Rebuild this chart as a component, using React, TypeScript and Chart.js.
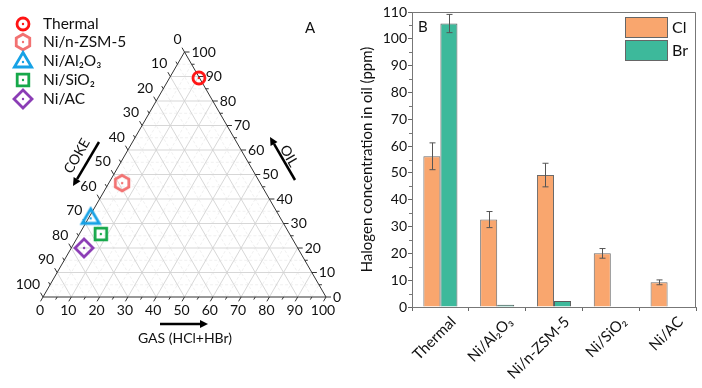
import React, { useEffect, useRef } from 'react';
import { Chart, registerables } from 'chart.js';
Chart.register(...registerables);

// ---------- Ternary data (percent) ----------
const ternarySeries = ['Thermal', 'Ni/n-ZSM-5', 'Ni/Al₂O₃', 'Ni/SiO₂', 'Ni/AC'];
const gasPct = [10.4, 4.7, 0.6, 7.6, 4.5];
const oilPct = [89.4, 46.5, 32.5, 25.7, 20.0];
const cokePct = [0.2, 48.8, 66.9, 66.7, 75.5];
const markerShapes = ['circle', 'hexagon', 'triangle', 'square', 'diamond'];
const markerColors = ['#ff1414', '#f27272', '#17a2e6', '#16a84a', '#8b3db5'];
const ternaryTickValues = [0, 10, 20, 30, 40, 50, 60, 70, 80, 90, 100];

// ---------- Bar data (ppm) ----------
const barCategories = ['Thermal', 'Ni/Al₂O₃', 'Ni/n-ZSM-5', 'Ni/SiO₂', 'Ni/AC'];
const clValues = [56.2, 32.6, 49.2, 20.0, 9.2];
const clErrors = [5.0, 3.0, 4.4, 1.8, 0.9];
const brValues = [105.7, 0.8, 2.2, 0, 0];
const brErrors = [3.4, 0, 0, 0, 0];
const barTickValues = [0, 10, 20, 30, 40, 50, 60, 70, 80, 90, 100, 110];

const FONT = 'Lato, "Open Sans", sans-serif';
const SQ3 = Math.sqrt(3) / 2;

function makeMarker(shape: string, color: string): HTMLCanvasElement {
  const S = 24;
  const c = document.createElement('canvas');
  c.width = S;
  c.height = S;
  const ctx = c.getContext('2d')!;
  const m = S / 2;
  ctx.strokeStyle = color;
  ctx.fillStyle = color;
  ctx.lineWidth = 2.8;
  ctx.lineJoin = 'miter';
  ctx.beginPath();
  if (shape === 'circle') {
    ctx.arc(m, m, 6, 0, Math.PI * 2);
  } else if (shape === 'hexagon') {
    for (let i = 0; i < 6; i++) {
      const a = (-90 + 60 * i) * Math.PI / 180;
      const px = m + 7.8 * Math.cos(a);
      const py = m + 7.8 * Math.sin(a);
      if (i === 0) ctx.moveTo(px, py); else ctx.lineTo(px, py);
    }
  } else if (shape === 'triangle') {
    ctx.moveTo(m, m - 8.5);
    ctx.lineTo(m + 8.6, m + 6);
    ctx.lineTo(m - 8.6, m + 6);
  } else if (shape === 'square') {
    ctx.rect(m - 5.8, m - 5.8, 11.6, 11.6);
  } else {
    ctx.moveTo(m, m - 9);
    ctx.lineTo(m + 9, m);
    ctx.lineTo(m, m + 9);
    ctx.lineTo(m - 9, m);
  }
  ctx.closePath();
  ctx.stroke();
  ctx.beginPath();
  ctx.arc(m, m + (shape === 'triangle' ? 1 : 0), 1.2, 0, Math.PI * 2);
  ctx.fill();
  return c;
}

function arrow(ctx: CanvasRenderingContext2D, x1: number, y1: number, x2: number, y2: number) {
  const ang = Math.atan2(y2 - y1, x2 - x1);
  const hl = 8;
  const hw = 4;
  const bx = x2 - hl * Math.cos(ang);
  const by = y2 - hl * Math.sin(ang);
  ctx.save();
  ctx.strokeStyle = '#000';
  ctx.fillStyle = '#000';
  ctx.lineWidth = 2.5;
  ctx.beginPath();
  ctx.moveTo(x1, y1);
  ctx.lineTo(bx, by);
  ctx.stroke();
  ctx.beginPath();
  ctx.moveTo(x2, y2);
  ctx.lineTo(bx + hw * Math.sin(ang), by - hw * Math.cos(ang));
  ctx.lineTo(bx - hw * Math.sin(ang), by + hw * Math.cos(ang));
  ctx.closePath();
  ctx.fill();
  ctx.restore();
}

export default function App() {
  const leftRef = useRef<HTMLCanvasElement | null>(null);
  const rightRef = useRef<HTMLCanvasElement | null>(null);

  useEffect(() => {
    const markers = markerShapes.map((s, i) => makeMarker(s, markerColors[i]));

    const ternaryPlugin = {
      id: 'ternary',
      beforeDatasetsDraw(chart: any) {
        const ctx: CanvasRenderingContext2D = chart.ctx;
        const xs = chart.scales.x;
        const ys = chart.scales.y;
        const P = (g: number, o: number): [number, number] => [
          xs.getPixelForValue(g + o / 2),
          ys.getPixelForValue(o * SQ3),
        ];
        const line = (a: [number, number], b: [number, number]) => {
          ctx.beginPath();
          ctx.moveTo(a[0], a[1]);
          ctx.lineTo(b[0], b[1]);
          ctx.stroke();
        };
        ctx.save();
        // minor grid
        ctx.strokeStyle = '#ececec';
        ctx.lineWidth = 0.8;
        ctx.setLineDash([3, 2]);
        for (let v = 5; v < 100; v += 10) {
          line(P(v, 0), P(v, 100 - v));
          line(P(0, v), P(100 - v, v));
          line(P(0, 100 - v), P(100 - v, 0));
        }
        ctx.setLineDash([]);
        // major grid
        ctx.strokeStyle = '#d2d2d2';
        ctx.lineWidth = 0.9;
        for (let v = 10; v < 100; v += 10) {
          line(P(v, 0), P(v, 100 - v));
          line(P(0, v), P(100 - v, v));
          line(P(0, 100 - v), P(100 - v, 0));
        }
        // frame
        ctx.strokeStyle = '#333';
        ctx.lineWidth = 1;
        ctx.beginPath();
        const a = P(0, 0), b = P(100, 0), c = P(0, 100);
        ctx.moveTo(a[0], a[1]);
        ctx.lineTo(b[0], b[1]);
        ctx.lineTo(c[0], c[1]);
        ctx.closePath();
        ctx.stroke();
        // ticks
        for (let v = 0; v <= 100; v += 5) {
          const L = v % 10 === 0 ? 5 : 3;
          const pb = P(v, 0);
          line(pb, [pb[0] - 0.5 * L, pb[1] + SQ3 * L]);
          const pr = P(100 - v, v);
          line(pr, [pr[0] + L, pr[1]]);
          const pl = P(0, 100 - v);
          line(pl, [pl[0] - 0.5 * L, pl[1] - SQ3 * L]);
        }
        // tick labels
        ctx.fillStyle = '#111';
        ctx.font = `14px ${FONT}`;
        ctx.textBaseline = 'middle';
        ternaryTickValues.forEach((v) => {
          const pb = P(v, 0);
          ctx.textAlign = 'center';
          ctx.fillText(String(v), pb[0] - 3, pb[1] + 13);
          const pr = P(100 - v, v);
          ctx.textAlign = 'left';
          ctx.fillText(String(v), pr[0] + 7, pr[1]);
          const pl = P(0, 100 - v);
          ctx.textAlign = 'right';
          ctx.fillText(String(v), pl[0] - 3, pl[1] - 13);
        });
        // axis titles with arrows
        ctx.textAlign = 'center';
        ctx.font = `14px ${FONT}`;
        ctx.fillText('GAS (HCl+HBr)', 185, 338);
        arrow(ctx, 160, 324, 208, 324);
        ctx.save();
        ctx.translate(77, 156);
        ctx.rotate(-Math.PI / 3);
        ctx.fillText('COKE', 0, 0);
        ctx.restore();
        arrow(ctx, 99, 142, 73, 186);
        ctx.save();
        ctx.translate(289, 156);
        ctx.rotate(Math.PI / 3);
        ctx.fillText('OIL', 0, 0);
        ctx.restore();
        arrow(ctx, 295, 180, 270, 137);
        // panel letter
        ctx.font = `15px ${FONT}`;
        ctx.fillText('A', 310, 28);
        // legend
        const rows = [24, 42, 61, 80, 99];
        ctx.textAlign = 'left';
        ctx.font = `15.5px ${FONT}`;
        ternarySeries.forEach((name, i) => {
          const mk = markers[i];
          ctx.drawImage(mk, 23 - mk.width / 2, rows[i] - mk.height / 2);
          ctx.fillText(name, 43, rows[i]);
        });
        ctx.restore();
      },
    };

    const left = new Chart(leftRef.current!, {
      type: 'scatter',
      data: {
        datasets: ternarySeries.map((name, i) => ({
          label: name,
          data: [{ x: gasPct[i] + oilPct[i] / 2, y: oilPct[i] * SQ3, coke: cokePct[i] }],
          pointStyle: markers[i],
          pointRadius: 8,
          borderColor: markerColors[i],
          backgroundColor: markerColors[i],
        })),
      },
      options: {
        animation: false,
        responsive: false,
        events: [],
        layout: { padding: { left: 43, right: 19, top: 52, bottom: 91 } },
        plugins: { legend: { display: false }, tooltip: { enabled: false } },
        scales: {
          x: { display: false, min: 0, max: 100 },
          y: { display: false, min: 0, max: 100 * SQ3 },
        },
      },
      plugins: [ternaryPlugin],
    } as any);

    const barPlugin = {
      id: 'barExtras',
      afterDatasetsDraw(chart: any) {
        const ctx: CanvasRenderingContext2D = chart.ctx;
        const ys = chart.scales.y;
        const ca = chart.chartArea;
        ctx.save();
        // error bars
        ctx.strokeStyle = '#555';
        ctx.lineWidth = 1;
        const errs = [clErrors, brErrors];
        chart.data.datasets.forEach((ds: any, di: number) => {
          const meta = chart.getDatasetMeta(di);
          meta.data.forEach((el: any, i: number) => {
            const e = errs[di][i];
            if (!e) return;
            const v = ds.data[i];
            const yt = ys.getPixelForValue(v + e);
            const yb = ys.getPixelForValue(v - e);
            const x = Math.round(el.x) + 0.5;
            ctx.beginPath();
            ctx.moveTo(x, yt);
            ctx.lineTo(x, yb);
            ctx.moveTo(x - 3, yt);
            ctx.lineTo(x + 3, yt);
            ctx.moveTo(x - 3, yb);
            ctx.lineTo(x + 3, yb);
            ctx.stroke();
          });
        });
        // frame
        ctx.strokeStyle = '#777';
        ctx.beginPath();
        ctx.moveTo(ca.left, ca.top + 0.5);
        ctx.lineTo(ca.right - 0.5, ca.top + 0.5);
        ctx.lineTo(ca.right - 0.5, ca.bottom);
        ctx.stroke();
        // minor y ticks
        for (let v = 5; v < 110; v += 10) {
          const y = Math.round(ys.getPixelForValue(v)) + 0.5;
          ctx.beginPath();
          ctx.moveTo(ca.left - 3, y);
          ctx.lineTo(ca.left, y);
          ctx.stroke();
        }
        // legend
        const items = [
          { label: 'Cl', color: chart.data.datasets[0].backgroundColor, y: 17 },
          { label: 'Br', color: chart.data.datasets[1].backgroundColor, y: 40 },
        ];
        ctx.font = `16px ${FONT}`;
        ctx.textBaseline = 'middle';
        ctx.textAlign = 'left';
        items.forEach((it) => {
          ctx.fillStyle = it.color;
          ctx.fillRect(280, it.y, 42, 20);
          ctx.strokeStyle = '#666';
          ctx.strokeRect(280.5, it.y + 0.5, 42, 20);
          ctx.fillStyle = '#111';
          ctx.fillText(it.label, 327, it.y + 11);
        });
        ctx.font = `15px ${FONT}`;
        ctx.fillText('B', 73, 27);
        ctx.restore();
      },
    };

    const right = new Chart(rightRef.current!, {
      type: 'bar',
      data: {
        labels: barCategories,
        datasets: [
          {
            label: 'Cl',
            data: clValues,
            backgroundColor: '#f9a66e',
            borderColor: '#6b6b6b',
            borderWidth: 1,
          },
          {
            label: 'Br',
            data: brValues,
            backgroundColor: '#3db99b',
            borderColor: '#5a5a5a',
            borderWidth: 1,
          },
        ],
      },
      options: {
        animation: false,
        responsive: false,
        events: [],
        layout: { padding: { left: 0, right: 6, top: 12, bottom: 0 } },
        datasets: { bar: { categoryPercentage: 0.6, barPercentage: 1.0 } },
        plugins: { legend: { display: false }, tooltip: { enabled: false } },
        scales: {
          x: {
            afterFit: (s: any) => { s.height = 81; },
            grid: { display: true, drawOnChartArea: false, offset: true, tickLength: 4, color: '#666' },
            border: { display: true, color: '#777' },
            ticks: {
              maxRotation: 45,
              minRotation: 45,
              autoSkip: false,
              labelOffset: 13,
              padding: 2,
              color: '#111',
              font: { family: FONT, size: 15 },
            },
          },
          y: {
            min: 0,
            max: 110,
            afterFit: (s: any) => { s.width = 67; },
            afterBuildTicks: (s: any) => { s.ticks = barTickValues.map((v) => ({ value: v })); },
            grid: { display: true, drawOnChartArea: false, tickLength: 4, color: '#666' },
            border: { display: true, color: '#777' },
            ticks: { color: '#111', padding: 1, font: { family: FONT, size: 14 } },
            title: {
              display: true,
              text: 'Halogen concentration in oil (ppm)',
              color: '#111',
              font: { family: FONT, size: 15 },
              padding: { top: 13, bottom: 0 },
            },
          },
        },
      },
      plugins: [barPlugin],
    } as any);

    return () => {
      left.destroy();
      right.destroy();
    };
  }, []);

  return (
    <div style={{ position: 'absolute', left: 0, top: 0, width: 702, height: 388, background: '#fff', overflow: 'hidden' }}>
      <canvas ref={leftRef} width={345} height={388} style={{ position: 'absolute', left: 0, top: 0, width: 345, height: 388 }} />
      <canvas ref={rightRef} width={357} height={388} style={{ position: 'absolute', left: 345, top: 0, width: 357, height: 388 }} />
    </div>
  );
}
